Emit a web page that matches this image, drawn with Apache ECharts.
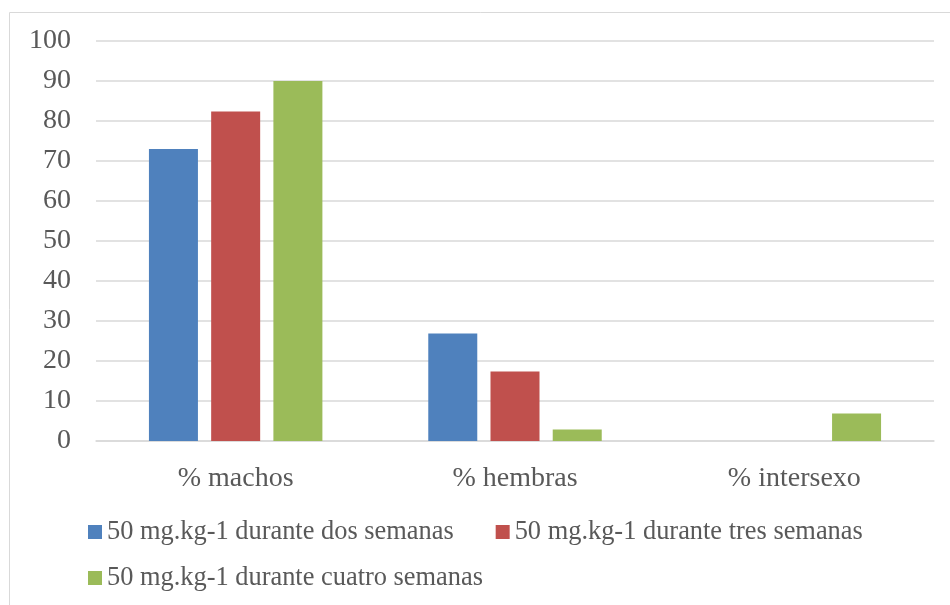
<!DOCTYPE html>
<html>
<head>
<meta charset="utf-8">
<script src="https://cdn.jsdelivr.net/npm/echarts@6/dist/echarts.min.js"></script>
<style>
  html, body { margin: 0; padding: 0; background: #fff; }
  #chart { width: 950px; height: 605px; }
</style>
</head>
<body>
<div id="chart"></div>
<script>
const categories = ['% machos', '% hembras', '% intersexo'];
const seriesNames = [
  '50 mg.kg-1 durante dos semanas',
  '50 mg.kg-1 durante tres semanas',
  '50 mg.kg-1 durante cuatro semanas'
];
const dosSemanas = [73, 26.9, 0];
const tresSemanas = [82.4, 17.4, 0];
const cuatroSemanas = [90, 2.9, 6.9];
const colors = ['#4F81BD', '#C0504D', '#9BBB59'];

const font = '"Liberation Serif", "Times New Roman", serif';
const textColor = '#595959';

const chart = echarts.init(document.getElementById('chart'));

const values = [dosSemanas, tresSemanas, cuatroSemanas];
const series = seriesNames.map((name, i) => ({
  name: name,
  type: 'bar',
  data: values[i],
  barWidth: 49,
  barGap: '27%',
  itemStyle: { color: colors[i] },
  emphasis: { disabled: true }
}));

const legendText = { fontFamily: font, fontSize: 26.4, color: textColor };

chart.setOption({
  animation: false,
  textStyle: { fontFamily: font },
  graphic: [{
    type: 'rect',
    shape: { x: 9.5, y: 12.5, width: 1000, height: 1000 },
    style: { fill: 'none', stroke: '#D9D9D9', lineWidth: 1 },
    silent: true
  }],
  legend: [
    {
      data: seriesNames.slice(0, 2),
      left: 88,
      top: 519,
      padding: 0,
      itemWidth: 14,
      itemHeight: 14,
      itemGap: 42,
      icon: 'rect',
      textStyle: legendText
    },
    {
      data: seriesNames.slice(2),
      left: 88,
      top: 565,
      padding: 0,
      itemWidth: 14,
      itemHeight: 14,
      icon: 'rect',
      textStyle: legendText
    }
  ],
  grid: { left: 96, right: 16, top: 41, bottom: 164 },
  xAxis: {
    type: 'category',
    data: categories,
    axisLine: { lineStyle: { color: '#D9D9D9', width: 1.5 } },
    axisTick: { show: false },
    axisLabel: { fontFamily: font, fontSize: 28, color: textColor, margin: 24 }
  },
  yAxis: {
    type: 'value',
    min: 0,
    max: 100,
    interval: 10,
    axisLine: { show: false },
    axisTick: { show: false },
    splitLine: { lineStyle: { color: '#D9D9D9', width: 1.5 } },
    axisLabel: { fontFamily: font, fontSize: 28, color: textColor, margin: 25 }
  },
  series: series
});
</script>
</body>
</html>
